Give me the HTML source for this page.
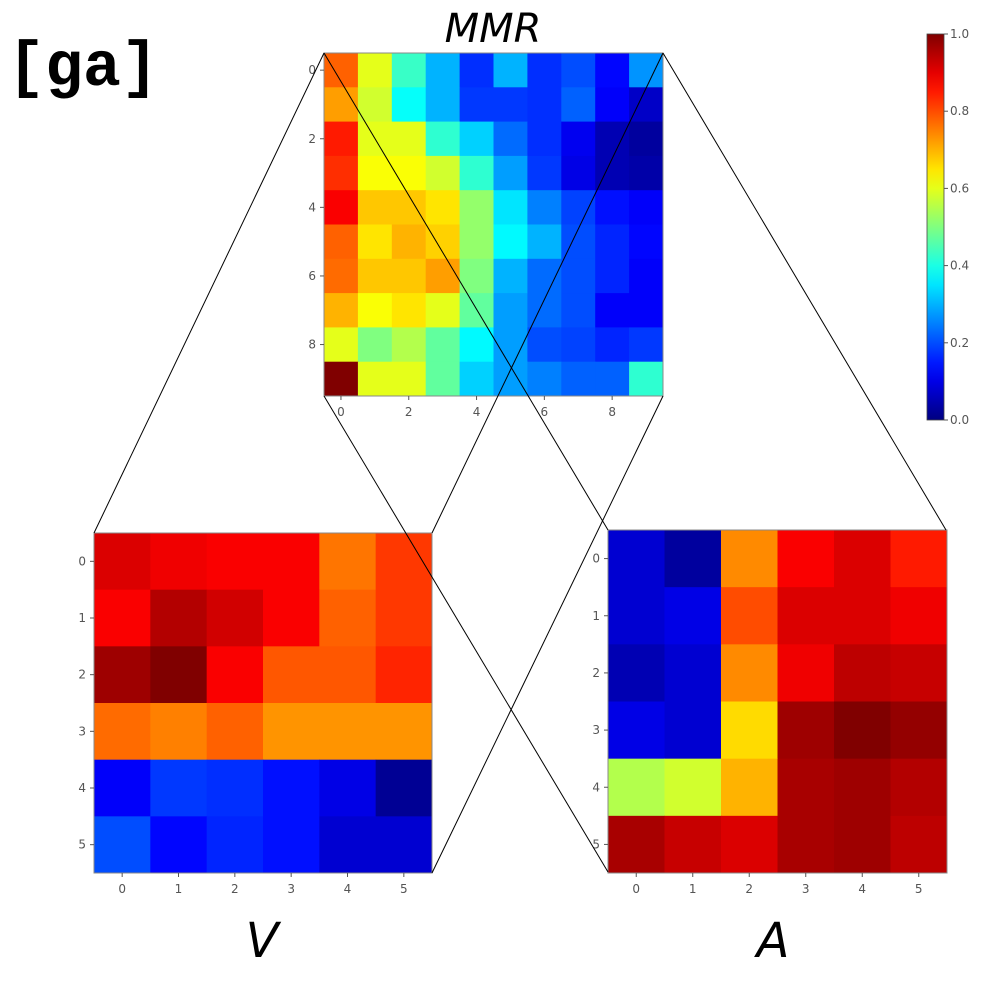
<!DOCTYPE html>
<html><head><meta charset="utf-8"><style>
html,body{margin:0;padding:0;background:#fff;}
svg text{font-family:"DejaVu Sans","Liberation Sans",sans-serif;}
</style></head><body>
<svg id="chart" width="1000" height="1000" xmlns="http://www.w3.org/2000/svg">
<defs><linearGradient id="jetgrad" x1="0" y1="1" x2="0" y2="0"></linearGradient></defs>
</svg>
<script>
const mmrValues = [
[0.78,0.60,0.43,0.30,0.17,0.30,0.17,0.20,0.13,0.27],
[0.72,0.58,0.38,0.30,0.18,0.18,0.17,0.22,0.12,0.07],
[0.85,0.60,0.60,0.42,0.33,0.23,0.17,0.11,0.05,0.03],
[0.83,0.62,0.62,0.58,0.42,0.28,0.18,0.10,0.05,0.04],
[0.88,0.68,0.68,0.65,0.52,0.35,0.25,0.19,0.14,0.12],
[0.78,0.65,0.70,0.67,0.52,0.37,0.30,0.20,0.16,0.13],
[0.77,0.68,0.68,0.72,0.50,0.30,0.23,0.20,0.16,0.12],
[0.70,0.62,0.65,0.60,0.47,0.28,0.23,0.20,0.12,0.12],
[0.60,0.50,0.55,0.47,0.37,0.28,0.20,0.19,0.16,0.18],
[1.00,0.60,0.60,0.47,0.33,0.28,0.25,0.22,0.22,0.42]];
const vValues = [
[0.91,0.89,0.88,0.88,0.76,0.82],
[0.88,0.95,0.92,0.88,0.78,0.82],
[0.97,1.00,0.88,0.79,0.79,0.84],
[0.77,0.75,0.78,0.73,0.73,0.73],
[0.12,0.18,0.17,0.14,0.10,0.02],
[0.20,0.13,0.16,0.14,0.08,0.08]];
const aValues = [
[0.08,0.03,0.74,0.88,0.91,0.85],
[0.08,0.10,0.80,0.91,0.91,0.89],
[0.05,0.08,0.74,0.89,0.94,0.93],
[0.10,0.08,0.66,0.97,1.00,0.98],
[0.55,0.58,0.70,0.96,0.97,0.95],
[0.96,0.93,0.91,0.96,0.97,0.94]];
const mmrTicks = [0,2,4,6,8];
const smallTicks = [0,1,2,3,4,5];
const cbarTicks = [0,0.2,0.4,0.6,0.8,1.0];

const NS="http://www.w3.org/2000/svg";
const svg=document.getElementById('chart');
function el(t,a,p){const e=document.createElementNS(NS,t);for(const k in a)e.setAttribute(k,a[k]);(p||svg).appendChild(e);return e;}
function cl(x){return Math.max(0,Math.min(1,x));}
function jet(v){const r=cl(1.5-Math.abs(4*v-3)),g=cl(1.5-Math.abs(4*v-2)),b=cl(1.5-Math.abs(4*v-1));
return `rgb(${Math.round(r*255)},${Math.round(g*255)},${Math.round(b*255)})`;}

function heatmap(name,data,x0,y0,x1,y1,ticks){
  const g=el('g',{});
  
  
  const n=data.length, cw=(x1-x0)/n, ch=(y1-y0)/n;
  const sx=i=>x0+i*cw, sy=j=>y0+j*ch;
  data.forEach((row,j)=>row.forEach((v,i)=>{
    const r=el('rect',{x:sx(i),y:sy(j),width:cw+0.5,height:ch+0.5,fill:jet(v)},g);
    
    
  }));
  el('rect',{x:x0,y:y0,width:x1-x0,height:y1-y0,fill:'none',stroke:'#888','stroke-width':1},g);
  ticks.forEach(t=>{
    const cx=sx(t)+cw/2, cy=sy(t)+ch/2;
    el('line',{x1:cx,y1:y1,x2:cx,y2:y1+4,stroke:'#555'},g);
    el('line',{x1:x0,y1:cy,x2:x0-4,y2:cy,stroke:'#555'},g);
    const tx=el('text',{x:cx,y:y1+20,'text-anchor':'middle','font-size':12,fill:'#555'},g);tx.textContent=t;
    
    
    const ty=el('text',{x:x0-8,y:cy+4,'text-anchor':'end','font-size':12,fill:'#555'},g);ty.textContent=t;
    
    
  });
}
heatmap('mmr-heatmap',mmrValues,324,53,663,396,mmrTicks);
heatmap('v-heatmap',vValues,94,533,432,873,smallTicks);
heatmap('a-heatmap',aValues,608,530,947,873,smallTicks);

const grad=document.getElementById('jetgrad');
for(let i=0;i<=20;i++){el('stop',{offset:(i/20),'stop-color':jet(i/20)},grad);}
const cb=el('g',{});


const cy0=34,cy1=420;
el('rect',{x:927,y:cy0,width:17,height:cy1-cy0,fill:'url(#jetgrad)',stroke:'#444','stroke-width':0.8},cb);
cbarTicks.forEach(t=>{
  const y=cy1-t*(cy1-cy0);
  el('line',{x1:944,y1:y,x2:948,y2:y,stroke:'#555'},cb);
  const tx=el('text',{x:950,y:y+4,'font-size':12,fill:'#555'},cb);tx.textContent=t.toFixed(1);
  
  
});

const lines=[[324,53,94,533],[663,53,946,530],[324,53,608,530],[663,53,432,533],[324,396,608,872],[663,396,432,873]];
lines.forEach(l=>{const e=el('line',{x1:l[0],y1:l[1],x2:l[2],y2:l[3],stroke:'#000','stroke-width':1});

});

function label(txt,x,y,size,name,style){const t=el('text',Object.assign({x:x,y:y,'font-size':size,'text-anchor':'middle',fill:'#000'},style||{}));t.textContent=txt;

return t;}
label('MMR',493,42,40,'mmr-title',{'font-style':'italic'});
label('V',262,957,48,'v-title',{'font-style':'italic'});
label('A',773,957,48,'a-title',{'font-style':'italic'});
const ga=label('[ga]',83,85,63,'ga-label',{'font-weight':'bold'});
ga.style.fontFamily='"Liberation Mono","DejaVu Sans Mono",monospace';
</script>
</body></html>
